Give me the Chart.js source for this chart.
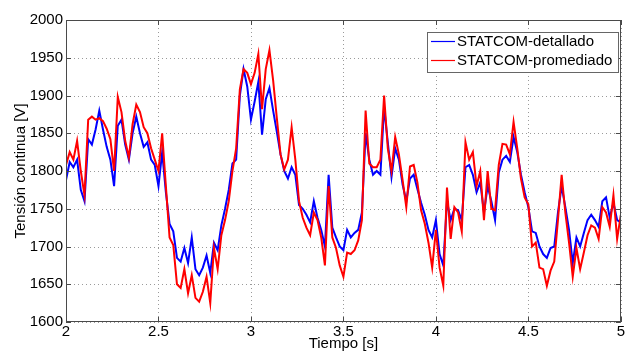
<!DOCTYPE html>
<html>
<head>
<meta charset="utf-8">
<script src="https://cdn.jsdelivr.net/npm/chart.js@4"></script>
<style>
  html, body { margin: 0; padding: 0; background: #fff; }
</style>
</head>
<body>
<canvas id="voltChart" width="626" height="356"></canvas>
<script>
// sampling grid: 2.00 s .. 5.00 s every 0.02 s
const tStart = 2, tStep = 0.02;

const detallado = [
  1788, 1812, 1805, 1815, 1775, 1760, 1842, 1835, 1855, 1880,
  1855, 1832, 1815, 1780, 1860, 1868, 1835, 1815, 1850, 1872,
  1850, 1832, 1838, 1815, 1808, 1780, 1825, 1772, 1730, 1720,
  1685, 1680, 1698, 1678, 1712, 1670, 1662, 1672, 1688, 1665,
  1705, 1695, 1728, 1750, 1775, 1810, 1815, 1900, 1935, 1912,
  1868, 1892, 1918, 1848, 1895, 1910, 1880, 1852, 1822, 1800,
  1790, 1805, 1795, 1755, 1750, 1742, 1732, 1760, 1738, 1722,
  1700, 1795, 1725, 1712, 1700, 1695, 1722, 1712, 1718, 1722,
  1745, 1850, 1815, 1795, 1800, 1795, 1885, 1838, 1792, 1830,
  1815, 1782, 1760, 1790, 1795, 1776, 1758, 1742, 1722, 1712,
  1735, 1690, 1675, 1760, 1735, 1750, 1748, 1735, 1805, 1808,
  1795, 1772, 1785, 1745, 1780, 1760, 1735, 1798, 1815, 1820,
  1812, 1845, 1825, 1795, 1772, 1752, 1720, 1718, 1700, 1690,
  1685, 1698, 1700, 1745, 1780, 1752, 1722, 1678, 1712, 1700,
  1718, 1735, 1742, 1735, 1726, 1760, 1765, 1738, 1758, 1735,
  1732
];

const promediado = [
  1808, 1825, 1815, 1840, 1800, 1768, 1868, 1872, 1868, 1870,
  1866, 1856, 1842, 1800, 1898, 1878, 1840, 1818, 1862, 1888,
  1878, 1858, 1850, 1830, 1815, 1800, 1850, 1780, 1712, 1702,
  1650, 1645, 1670, 1638, 1662, 1632, 1627, 1640, 1660, 1625,
  1698, 1670, 1715, 1735, 1760, 1800, 1830, 1908, 1935, 1930,
  1915, 1930, 1955, 1882, 1935, 1960, 1920, 1870, 1822, 1802,
  1815, 1858, 1815, 1760, 1738, 1725, 1715, 1745, 1735, 1712,
  1675, 1780, 1712, 1698, 1675, 1660, 1692, 1690, 1695, 1708,
  1735, 1880, 1810, 1805, 1805, 1815, 1900, 1830, 1800, 1845,
  1822, 1788, 1752, 1806, 1808, 1785, 1748, 1730, 1705, 1672,
  1722, 1672, 1648, 1778, 1710, 1752, 1745, 1720, 1838, 1815,
  1825, 1780, 1800, 1735, 1800, 1750, 1748, 1808, 1836, 1835,
  1822, 1865, 1830, 1790, 1765, 1756, 1700, 1705, 1672, 1670,
  1648, 1668, 1680, 1735, 1795, 1745, 1705, 1660, 1698, 1670,
  1692, 1715, 1728, 1725, 1710, 1752, 1745, 1726, 1768, 1710,
  1742
];

const seriesNames = ["STATCOM-detallado", "STATCOM-promediado"];
const seriesColors = ["#0000ff", "#ff0000"];

const xTitle = "Tiempo [s]";
const yTitle = "Tensión continua [V]";

const toPoints = (vals) => vals.map((v, i) => ({ x: +(tStart + i * tStep).toFixed(2), y: v }));

const axisColor = "#4a4a4a";
const fontFam = "'Liberation Sans', Arial, Helvetica, sans-serif";

// dotted grid behind the lines
const dottedGrid = {
  id: "dottedGrid",
  beforeDatasetsDraw(chart) {
    const { ctx, chartArea: a, scales } = chart;
    ctx.save();
    ctx.strokeStyle = "#9a9a9a";
    ctx.lineWidth = 1;
    ctx.setLineDash([1, 3]);
    scales.x.ticks.forEach(t => {
      const px = Math.round(scales.x.getPixelForValue(t.value)) + 0.5;
      ctx.beginPath(); ctx.moveTo(px, a.top); ctx.lineTo(px, a.bottom); ctx.stroke();
    });
    scales.y.ticks.forEach(t => {
      const py = Math.round(scales.y.getPixelForValue(t.value)) + 0.5;
      ctx.beginPath(); ctx.moveTo(a.left, py); ctx.lineTo(a.right, py); ctx.stroke();
    });
    ctx.restore();
  }
};

// box around the axes, inward ticks and the legend box
const matlabBox = {
  id: "matlabBox",
  afterDatasetsDraw(chart) {
    const { ctx, chartArea: a, scales } = chart;
    ctx.save();
    ctx.strokeStyle = axisColor;
    ctx.lineWidth = 1;
    const seg = (x1, y1, x2, y2) => { ctx.beginPath(); ctx.moveTo(x1, y1); ctx.lineTo(x2, y2); ctx.stroke(); };
    scales.x.ticks.forEach(t => {
      const px = Math.round(scales.x.getPixelForValue(t.value)) + 0.5;
      seg(px, a.top, px, a.top + 5);
      seg(px, a.bottom, px, a.bottom - 5);
    });
    scales.y.ticks.forEach(t => {
      const py = Math.round(scales.y.getPixelForValue(t.value)) + 0.5;
      seg(a.left, py, a.left + 5, py);
      seg(a.right, py, a.right - 5, py);
    });
    ctx.strokeRect(Math.round(a.left) + 0.5, Math.round(a.top) + 0.5, Math.round(a.width) - 1, Math.round(a.height) - 1);

    // legend
    const bx = 427, by = 32, bw = 191, bh = 40;
    ctx.fillStyle = "#fff";
    ctx.fillRect(bx, by, bw, bh);
    ctx.strokeStyle = "#666";
    ctx.strokeRect(bx + 0.5, by + 0.5, bw, bh);
    ctx.font = "15px " + fontFam;
    ctx.textBaseline = "middle";
    chart.data.datasets.forEach((ds, i) => {
      const ly = by + 9 + i * 19;
      ctx.strokeStyle = ds.borderColor;
      ctx.lineWidth = 1.2;
      seg(431, ly + 0.5, 455, ly + 0.5);
      ctx.fillStyle = "#000";
      ctx.fillText(ds.label, 457, ly + 1);
    });
    ctx.restore();
  }
};

const ctxVolt = document.getElementById("voltChart").getContext("2d");

const voltChart = new Chart(ctxVolt, {
  type: "line",
  data: {
    datasets: [
      {
        label: seriesNames[0],
        data: toPoints(detallado),
        borderColor: seriesColors[0],
        borderWidth: 2,
        pointRadius: 0,
        tension: 0,
        order: 1,
      },
      {
        label: seriesNames[1],
        data: toPoints(promediado),
        borderColor: seriesColors[1],
        borderWidth: 2,
        pointRadius: 0,
        tension: 0,
        order: 0,
      },
    ],
  },
  options: {
    responsive: false,
    animation: false,
    layout: { padding: { top: 20, right: 5, left: 0, bottom: 0 } },
    plugins: {
      legend: { display: false },
      tooltip: { enabled: false },
    },
    scales: {
      x: {
        type: "linear",
        min: 2,
        max: 5,
        afterFit: (s) => { s.height = 34; },
        ticks: {
          stepSize: 0.5,
          color: "#000",
          padding: 1,
          maxRotation: 0,
          font: { family: fontFam, size: 15 },
          callback: (v) => String(v),
        },
        grid: { display: false, drawTicks: false },
        border: { display: false },
        title: {
          display: true,
          text: xTitle,
          color: "#000",
          padding: { top: 0, bottom: 3 },
          font: { family: fontFam, size: 15 },
        },
      },
      y: {
        min: 1600,
        max: 2000,
        afterFit: (s) => { s.width = 66; },
        ticks: {
          stepSize: 50,
          color: "#000",
          padding: 3,
          font: { family: fontFam, size: 15 },
          callback: (v) => String(v),
        },
        grid: { display: false, drawTicks: false },
        border: { display: false },
        title: {
          display: true,
          text: yTitle,
          color: "#000",
          padding: { top: 12, bottom: 0 },
          font: { family: fontFam, size: 15 },
        },
      },
    },
  },
  plugins: [dottedGrid, matlabBox],
});
</script>
</body>
</html>
